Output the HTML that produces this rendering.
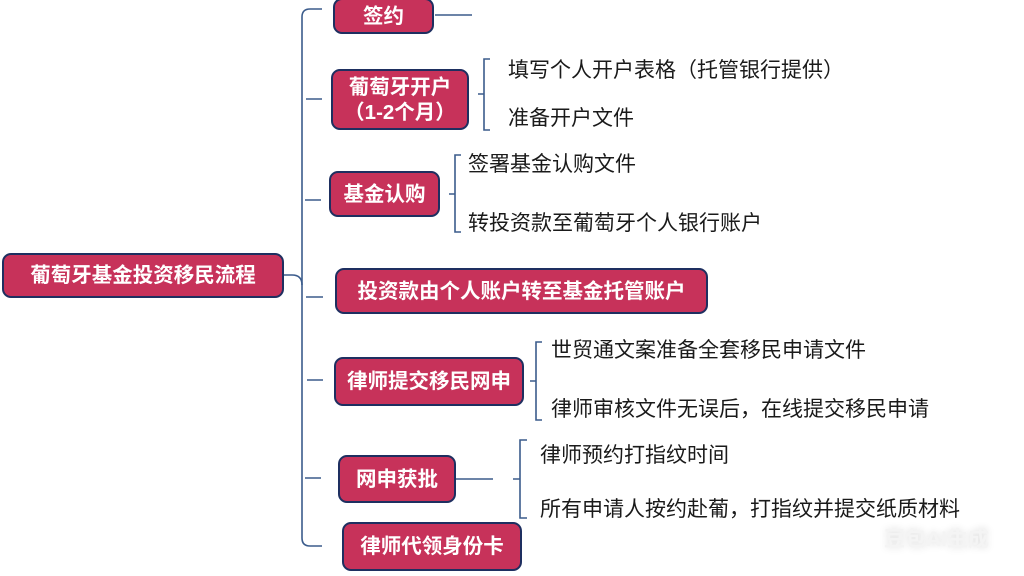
<!DOCTYPE html>
<html><head><meta charset="utf-8"><style>
body{margin:0;width:1024px;height:576px;background:#fff;position:relative;overflow:hidden;font-family:"Liberation Sans","Noto Sans CJK SC",sans-serif}
.n{position:absolute;box-sizing:border-box;background:#c7325a;border:2.5px solid #1e2f60;border-radius:9px;color:#fff;font-weight:bold;font-size:20.5px;display:flex;align-items:center;justify-content:center;text-align:center;line-height:25px}
.t{position:absolute;font-size:21px;color:#1a1a1a;white-space:nowrap;line-height:24px}
svg{position:absolute;left:0;top:0}
</style></head><body>
<svg width="1024" height="576" fill="none" stroke="#3b5c8c" stroke-width="1.6">
<path d="M322 9 H310 Q302 9 302 17 V538 Q302 546 310 546 H322"/>
<path d="M283 275 H292 Q302 275 302 285"/>
<path d="M306 99 H322 M305 200 H321 M306 297 H323 M307 380 H323 M305 478 H321"/>
<path d="M435 15 H472"/>
<path d="M490 59 H484 V130 H490 M478 94 H484"/>
<path d="M461 155 H455 V232 H461 M449 194 H455"/>
<path d="M542 342 H536 V420 H542 M530 381 H536"/>
<path d="M455 479 H493 M527 440 H520 V518 H527 M513 479 H520"/>
</svg>
<div class="n" style="left:2px;top:253px;width:282px;height:45px">葡萄牙基金投资移民流程</div>
<div class="n" style="left:333px;top:-2px;width:101px;height:36px">签约</div>
<div class="n" style="left:331px;top:69px;width:138px;height:61px">葡萄牙开户<br>（1-2个月）</div>
<div class="n" style="left:329px;top:171px;width:111px;height:46px">基金认购</div>
<div class="n" style="left:335px;top:268px;width:373px;height:46px">投资款由个人账户转至基金托管账户</div>
<div class="n" style="left:334px;top:357px;width:190px;height:49px">律师提交移民网申</div>
<div class="n" style="left:338px;top:455px;width:118px;height:48px">网申获批</div>
<div class="n" style="left:342px;top:522px;width:180px;height:49px">律师代领身份卡</div>
<div class="t" style="left:508px;top:59px">填写个人开户表格（托管银行提供）</div>
<div class="t" style="left:508px;top:107px">准备开户文件</div>
<div class="t" style="left:468px;top:153px">签署基金认购文件</div>
<div class="t" style="left:468px;top:212px">转投资款至葡萄牙个人银行账户</div>
<div class="t" style="left:551px;top:339px">世贸通文案准备全套移民申请文件</div>
<div class="t" style="left:551px;top:398px">律师审核文件无误后，在线提交移民申请</div>
<div class="t" style="left:540px;top:444px">律师预约打指纹时间</div>
<div class="t" style="left:540px;top:498px">所有申请人按约赴葡，打指纹并提交纸质材料</div>
<div class="t" style="left:884px;top:528px;color:#f4f4f4;font-weight:bold;text-shadow:0 0 8px #ddd">豆包AI生成</div>
</body></html>
